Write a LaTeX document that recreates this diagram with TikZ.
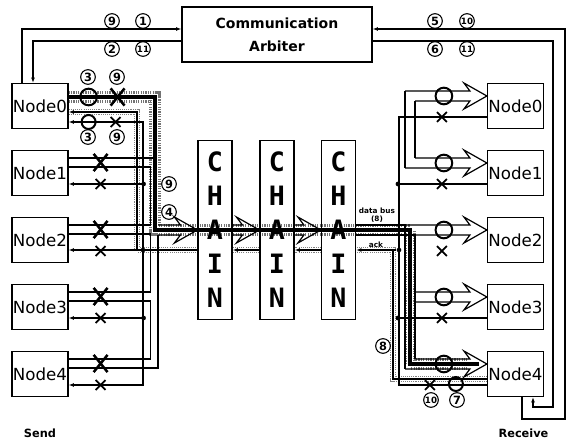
\documentclass[tikz,border=0pt]{standalone}
\usepackage{fontspec}
\setmainfont{DejaVu Sans}
\newfontfamily\chainfont{DejaVu Sans Mono}
\usetikzlibrary{
  arrows.meta,
  backgrounds,
  calc,
  positioning,
  shapes.misc
}
\tikzset{
  >={Latex[length=4pt,width=3pt]},
  wire/.style={draw=black,line width=0.9pt},
  feed/.style={wire,->},
  nodebox/.style={
    draw=black,
    line width=0.9pt,
    fill=white,
    minimum width=42pt,
    minimum height=33.75pt,
    inner sep=0pt,
    font=\fontsize{12.5}{14}\selectfont
  },
  arbbox/.style={
    draw=black,
    line width=0.9pt,
    fill=white,
    minimum width=142.5pt,
    minimum height=41.25pt,
    align=center,
    font=\bfseries\fontsize{10.5}{17}\selectfont
  },
  chainbox/.style={
    draw=black,
    line width=0.9pt,
    minimum width=25.5pt,
    minimum height=134.25pt,
    inner sep=0pt,
    align=center,
    font=\chainfont\bfseries\fontsize{20}{25.5}\selectfont
  },
  swon/.style={circle,draw=black,line width=1.5pt,minimum size=12.5pt,inner sep=0pt},
  bigx/.style={cross out,draw=black,line width=1.9pt,minimum width=8.5pt,minimum height=11pt,inner sep=0pt},
  smallx/.style={cross out,draw=black,line width=1.4pt,minimum size=6pt,inner sep=0pt},
  joint/.style={circle,fill=black,minimum size=3.5pt,inner sep=0pt},
  num/.style={circle,draw=black,line width=0.8pt,minimum size=11pt,inner sep=0pt,
    font=\bfseries\fontsize{8.5}{9}\selectfont},
  numtwo/.style={num,font=\bfseries\fontsize{6.5}{7}\selectfont},
  tinylabel/.style={font=\bfseries\fontsize{5.5}{6}\selectfont,align=center,inner sep=0.5pt},
  sidelabel/.style={font=\bfseries\fontsize{8.5}{10}\selectfont},
  databand/.style={line width=8.5pt,draw=black!55,dash pattern=on 0.9pt off 0.9pt,
    postaction={draw=white,line width=5pt,solid}},
  datacore/.style={line width=2.8pt,draw=black},
  ackband/.style={line width=5pt,draw=black!50,dash pattern=on 0.8pt off 0.8pt,
    postaction={draw=white,line width=3pt,solid}}
}
% open (hollow) bus arrow: upper shaft start, lower shaft start, tip
\newcommand{\openarrow}[3]{%
  \draw[wire,line join=miter] (#1) -- ($(#3)+(-17,-5)$) -- ($(#3)+(-23,-13)$) -- (#3)
    -- ($(#3)+(-23,13)$) -- ($(#3)+(-17,5)$) -- (#2);%
}

\begin{document}
\begin{tikzpicture}[x=0.75pt,y=-0.75pt]
  \useasboundingbox (0,0) rectangle (572,438);

  \node[arbbox] (arb) at (277,34.5) {Communication\\Arbiter};
  \foreach \i in {0,...,4}{
    \node[nodebox] (ln\i) at (40,106+67*\i) {Node\i};
    \node[nodebox] (rn\i) at (515.5,106+67*\i) {Node\i};
    \coordinate (rt\i) at ([yshift=7.5pt]rn\i.west);
  }
  \node[chainbox] (ch1) at (215,230) {C\\H\\A\\I\\N};
  \node[chainbox] (ch2) at (277,230) {C\\H\\A\\I\\N};
  \node[chainbox] (ch3) at (338.5,230) {C\\H\\A\\I\\N};

  \node[sidelabel,below=20pt of ln4] (send) {Send};
  \node[sidelabel,below=20pt of rn4,xshift=6pt] (receive) {Receive};

  % arbiter request / grant
  \draw[feed] ([xshift=-13.5pt]ln0.north) |- ([yshift=4.125pt]arb.west);
  \draw[feed] ([yshift=-4.875pt]arb.west) -| ([xshift=-5.25pt]ln0.north);
  \draw[feed] ([xshift=4.875pt]rn4.south) |- (565,419) |- ([yshift=4.125pt]arb.east);
  \draw[feed] ([yshift=-4.875pt]arb.east) -| (553,407) -| ([xshift=13.125pt]rn4.south);

  % highlighted routes
  \begin{scope}[on background layer]
    \draw[databand] ([yshift=6.75pt]ln0.east) -| (155,230) -| (410,364) -- ([xshift=-15pt]rt4);
    \draw[ackband] ([yshift=-4.5pt]ln0.east) -| (137,250) -- ([yshift=-15pt]ch1.west);
    \draw[ackband] ([yshift=-15pt]ch2.west) -- ([yshift=-15pt]ch1.east);
    \draw[ackband] ([yshift=-15pt]ch3.west) -- ([yshift=-15pt]ch2.east);
    \draw[ackband] ([yshift=-3.75pt]rn4.west) -| (393,250) -- ([yshift=-15pt]ch3.east);
  \end{scope}

  % send side
  \draw[wire] ([yshift=11.25pt]ln1.east) -- ++(84,0);
  \foreach \i/\j in {1/2,2/3,3/4}
    \draw[wire] ([yshift=4.5pt]ln\i.east) -- ++(82,0) |- ([yshift=11.25pt]ln\j.east);
  \draw[wire] ([yshift=4.5pt]ln4.east) -| (158,235);

  \draw[wire,<->] ([yshift=-12pt]ln0.east) -| (143,385) -- ([yshift=-8.25pt]ln4.east);
  \draw[wire,<-] ([yshift=-4.5pt]ln0.east) -| (137,250) -- ([yshift=-15pt]ch1.west);
  \draw[wire,<-] ([yshift=-7.5pt]ln2.east) -- ([yshift=-15pt]ch1.west);
  \foreach \i in {1,3}
    \draw[wire,<-] ([yshift=-8.25pt]ln\i.east) -- ++(75,0) node[joint] (jl\i) {};
  \node[joint] (jl2) at (143,250) {};

  % chain
  \openarrow{158,225}{158,235}{ch1.west}
  \openarrow{$(ch1.east)+(0,-5)$}{$(ch1.east)+(0,5)$}{ch2.west}
  \openarrow{$(ch2.east)+(0,-5)$}{$(ch2.east)+(0,5)$}{ch3.west}
  \draw[wire,->] ([yshift=-15pt]ch2.west) -- ([yshift=-15pt]ch1.east);
  \draw[wire,->] ([yshift=-15pt]ch3.west) -- ([yshift=-15pt]ch2.east);

  % receive side
  \draw[wire] ([yshift=3.75pt]ch3.east) -| (405,369);
  \draw[wire] ([yshift=-3.75pt]ch3.east) -| (415,359);
  \draw[wire] (405,91) -- (405,168);
  \draw[wire] (415,101) -- (415,158);
  \openarrow{405,91}{415,101}{rt0}
  \openarrow{415,158}{405,168}{rt1}
  \openarrow{405,225}{415,235}{rt2}
  \openarrow{415,292}{415,302}{rt3}
  \openarrow{415,359}{405,369}{rt4}

  \draw[wire] ([yshift=-8.25pt]rn0.west) -| (399,385) -- ([yshift=-8.25pt]rn4.west);
  \foreach \i in {1,3}
    \draw[wire] ([yshift=-8.25pt]rn\i.west) -- ++(-89,0) node[joint] (jr\i) {};
  \node[joint] (jr2) at (399,250) {};
  \draw[wire,->] (jr2) -- ([yshift=-15pt]ch3.east);
  \draw[wire] ([yshift=-3.75pt]rn4.west) -| (393,250);

  \draw[datacore] ([yshift=6.75pt]ln0.east) -| (155,230) -| (410,364) -- ([xshift=-6pt]rt4);

  % switches
  \node[swon] (cl0) at ([xshift=15pt,yshift=6.75pt]ln0.east) {};
  \node[bigx] (xl0) at ([xshift=36.75pt,yshift=6.75pt]ln0.east) {};
  \node[swon,minimum size=10.5pt] (cl5) at ([xshift=15pt,yshift=-12pt]ln0.east) {};
  \node[smallx] (xa0) at ([xshift=35.25pt,yshift=-12pt]ln0.east) {};
  \foreach \i in {1,...,4}{
    \node[bigx] (xl\i) at ([xshift=24pt,yshift=7.875pt]ln\i.east) {};
    \node[smallx] (xa\i) at ([xshift=24pt,yshift=-8.25pt]ln\i.east) {};
  }
  \foreach \i in {0,...,4}
    \node[swon] (cr\i) at ([xshift=-32.25pt]rt\i) {};
  \foreach \i in {0,...,3}
    \node[smallx] (xr\i) at ([xshift=-33.75pt,yshift=-8.25pt]rn\i.west) {};
  \node[smallx] (xr4) at ([xshift=-42.75pt,yshift=-8.25pt]rn4.west) {};
  \node[swon,minimum size=10.5pt] (cr5) at ([xshift=-23.25pt,yshift=-7.5pt]rn4.west) {};

  % step numbers
  \node[num] (n1) at (112,21) {9};
  \node[num] (n2) at (143,21) {1};
  \node[num] (n3) at (112,49) {2};
  \node[numtwo] (n4) at (143,49) {11};
  \node[num] (n5) at (435,21) {5};
  \node[numtwo] (n6) at (467,21) {10};
  \node[num] (n7) at (435,49) {6};
  \node[numtwo] (n8) at (467,49) {11};
  \node[num] (n9) at (88,77) {3};
  \node[num] (n10) at (117,77) {9};
  \node[num] (n11) at (88,137) {3};
  \node[num] (n12) at (117,137) {9};
  \node[num] (n13) at (169,184) {9};
  \node[num] (n14) at (169,212) {4};
  \node[num] (n15) at (383,346) {8};
  \node[numtwo] (n16) at (431,400) {10};
  \node[num] (n17) at (457,400) {7};

  \node[tinylabel] (busl) at (377,215) {data bus\\(8)};
  \node[tinylabel] (ackl) at (376,245) {ack};
\end{tikzpicture}
\end{document}
